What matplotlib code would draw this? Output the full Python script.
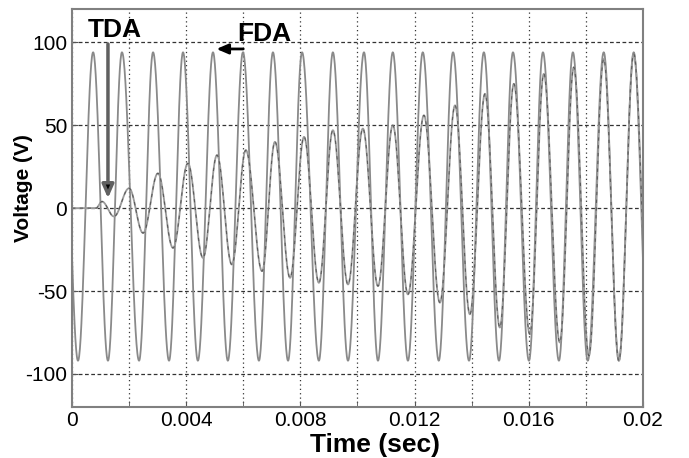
import numpy as np
import matplotlib
matplotlib.use("Agg")
import matplotlib.pyplot as plt
from matplotlib.ticker import MultipleLocator

# Extremums (temps en s, tension en V)
fda_t = [-0.00032, 0.00021, 0.00074, 0.00126, 0.00175, 0.00235, 0.00284, 0.00340,
         0.00389, 0.00441, 0.00494, 0.00546, 0.00599, 0.00655, 0.00704, 0.00757,
         0.00806, 0.00865, 0.00914, 0.00967, 0.01023, 0.01072, 0.01124, 0.01177,
         0.01229, 0.01285, 0.01335, 0.01391, 0.01443, 0.01496, 0.01545, 0.01601,
         0.01650, 0.01706, 0.01755, 0.01807, 0.01863, 0.01916, 0.01968, 0.02021]
fda_v = [93, -92, 94, -92, 94, -92, 94, -92, 94, -92, 94, -92, 94, -92, 94, -92,
         94, -92, 94, -92, 94, -92, 94, -92, 94, -92, 94, -92, 94, -92, 94, -92,
         94, -92, 94, -92, 94, -92, 94, -92]

tda_t = [0.0, 0.00084, 0.00105, 0.00147, 0.00200, 0.00249, 0.00301, 0.00354,
         0.00406, 0.00459, 0.00508, 0.00560, 0.00609, 0.00666, 0.00711, 0.00764,
         0.00813, 0.00865, 0.00914, 0.00967, 0.01019, 0.01072, 0.01124, 0.01177,
         0.01233, 0.01289, 0.01342, 0.01394, 0.01447, 0.01499, 0.01548, 0.01604,
         0.01653, 0.01709, 0.01758, 0.01811, 0.01863, 0.01916, 0.01968, 0.02025]
tda_v = [0, 0, 4, -5, 12, -15, 21, -24, 27, -30, 32, -34, 35, -38, 40, -42,
         43, -45, 47, -46, 48, -47, 50, -52, 56, -57, 62, -64, 69, -72, 75, -76,
         81, -81, 85, -89, 90, -92, 93, -93]

x_ticks = [0, 0.004, 0.008, 0.012, 0.016, 0.02]
x_labels = ["0", "0.004", "0.008", "0.012", "0.016", "0.02"]
y_ticks = [-100, -50, 0, 50, 100]


def through_extrema(t_ext, v_ext, n=40):
    """Relie les extremums par des demi-cosinus"""
    ts, vs = [], []
    for i in range(len(t_ext) - 1):
        s = np.linspace(0, 1, n, endpoint=False)
        ts.append(t_ext[i] + s * (t_ext[i + 1] - t_ext[i]))
        vs.append(v_ext[i] + (v_ext[i + 1] - v_ext[i]) * (1 - np.cos(np.pi * s)) / 2)
    ts.append([t_ext[-1]])
    vs.append([v_ext[-1]])
    return np.concatenate(ts), np.concatenate(vs)


plt.rcParams['font.family'] = ['Liberation Sans', 'DejaVu Sans']
plt.rcParams['axes.unicode_minus'] = False

fig = plt.figure(figsize=(6.89, 4.58), dpi=100)
ax = fig.add_axes([0.1045, 0.111, 0.8285, 0.869])

t1, v1 = through_extrema(fda_t, fda_v)
t2, v2 = through_extrema(tda_t, tda_v)
ax.plot(t1, v1, color="#8a8a8a", lw=1.3)
ax.plot(t2, v2, color="#9a9a9a", lw=1.3)
ax.plot(t2, v2, color="#303030", lw=0.8, dashes=(3, 4), alpha=0.6)

ax.set_xlim(0, 0.02)
ax.set_ylim(-120, 120)
ax.set_xticks(x_ticks)
ax.set_xticklabels(x_labels)
ax.xaxis.set_minor_locator(MultipleLocator(0.002))
ax.set_yticks(y_ticks)
ax.tick_params(which="both", direction="in", length=4, labelsize=15, color="#555555")
ax.tick_params(axis="x", pad=3)

ax.grid(True, axis="x", which="both", color="#333333", linestyle=(0, (1, 2.5)), lw=0.9)
ax.grid(True, axis="y", which="major", color="#333333", linestyle=(0, (3, 2)), lw=0.9)
for sp in ax.spines.values():
    sp.set_color("#808080")
    sp.set_linewidth(1.5)

ax.set_xlabel("Time (sec)", fontsize=19, fontweight="bold")
ax.xaxis.set_label_coords(0.53, -0.065)
ax.set_ylabel("Voltage (V)", fontsize=15, fontweight="bold")
ax.yaxis.set_label_coords(-0.068, 0.55)

ax.text(0.00056, 103, "TDA", fontsize=19, fontweight="bold", ha="left", va="baseline")
ax.text(0.0058, 101, "FDA", fontsize=19, fontweight="bold", ha="left", va="baseline")
ax.annotate("", xy=(0.00126, 6), xytext=(0.00126, 99),
            arrowprops=dict(arrowstyle="-|>,head_width=0.35,head_length=0.8",
                            lw=2.5, fc="black", ec="#606060",
                            shrinkA=0, shrinkB=0))
ax.annotate("", xy=(0.00506, 96), xytext=(0.0060, 96),
            arrowprops=dict(arrowstyle="-|>,head_width=0.3,head_length=0.7",
                            lw=2, fc="black", ec="black",
                            shrinkA=0, shrinkB=0))

fig.savefig("out.png", dpi=100)
